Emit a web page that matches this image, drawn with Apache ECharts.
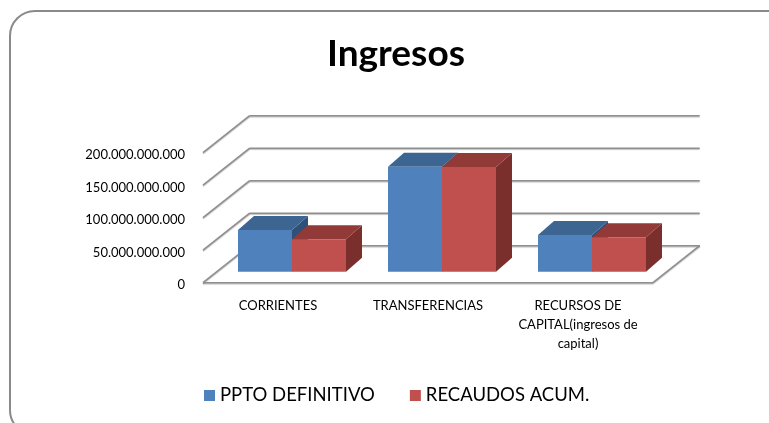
<!DOCTYPE html>
<html><head><meta charset="utf-8">
<script src="https://cdn.jsdelivr.net/npm/echarts/dist/echarts.min.js"></script>
<style>html,body{margin:0;padding:0;background:#fff}#c{width:769px;height:423px}</style>
</head><body><div id="c"></div>
<script>
const categories = ['CORRIENTES', 'TRANSFERENCIAS', 'RECURSOS DE\nCAPITAL(ingresos de\ncapital)'];
const seriesNames = ['PPTO DEFINITIVO', 'RECAUDOS ACUM.'];
const pptoDefinitivo = [64e9, 161.5e9, 56.5e9];
const recaudosAcum = [50e9, 161e9, 53e9];
const yTicks = [0, 50e9, 100e9, 150e9, 200e9];

const OFF = [14, -11];   // front plane -> bar plane
const DEP = [16, -14];   // bar depth
const BK = [46.7, -37];  // front plane -> back wall

function fmt(v) { return String(Math.round(v)).replace(/\B(?=(\d{3})+(?!\d))/g, '.'); }

function barRender(sIdx, cols) {
  return function (params, api) {
    const ci = api.value(0), v = api.value(1);
    const base = api.coord([ci, 0]);
    const top = api.coord([ci, v]);
    const band = api.size([1, 0])[0];
    const w = band * 0.36;
    const cx = base[0] + OFF[0];
    const x0 = sIdx === 0 ? cx - w : cx;
    const x1 = x0 + w;
    const yb = base[1] + OFF[1], yt = top[1] + OFF[1];
    return {
      type: 'group', children: [
        { type: 'polygon', shape: { points: [[x1, yb], [x1 + DEP[0], yb + DEP[1]], [x1 + DEP[0], yt + DEP[1]], [x1, yt]] }, style: { fill: cols.side } },
        { type: 'polygon', shape: { points: [[x0, yt], [x0 + DEP[0], yt + DEP[1]], [x1 + DEP[0], yt + DEP[1]], [x1, yt]] }, style: { fill: cols.top } },
        { type: 'rect', shape: { x: x0, y: yt, width: w, height: yb - yt }, style: { fill: cols.front } }
      ]
    };
  };
}

function wallRender(params, api) {
  const cs = params.coordSys;
  const v = api.value(1);
  const y = api.coord([0, v])[1];
  const xl = cs.x, xr = cs.x + cs.width;
  const lines = [
    [[xl, y], [xl + BK[0], y + BK[1]]],
    [[xl + BK[0], y + BK[1]], [xr + BK[0], y + BK[1]]]
  ];
  if (v === 0) {
    lines.push([[xl, y], [xr, y]]);
    lines.push([[xr, y], [xr + BK[0], y + BK[1]]]);
  }
  return {
    type: 'group', children: lines.map(l => ({
      type: 'polyline', shape: { points: l },
      style: { stroke: '#8f8f8f', lineWidth: 1.6, fill: null, shadowColor: 'rgba(0,0,0,0.25)', shadowOffsetY: 1, shadowBlur: 1 }
    }))
  };
}

const hiddenAxis = { axisLine: { show: false }, axisTick: { show: false }, splitLine: { show: false } };

const chart = echarts.init(document.getElementById('c'));
chart.setOption({
  animation: false,
  backgroundColor: '#fff',
  graphic: [{
    type: 'rect', shape: { x: 10, y: 11, width: 782, height: 424, r: 25 },
    style: { fill: null, stroke: '#8a8a8a', lineWidth: 2 }, z: 100
  }],
  title: {
    text: 'Ingresos', left: 322, top: 31,
    textStyle: { fontFamily: 'Lato', fontWeight: 'bold', fontSize: 37, color: '#000' }
  },
  legend: {
    data: seriesNames, icon: 'rect', itemWidth: 11, itemHeight: 11,
    left: 199, top: 381, itemGap: 35,
    textStyle: { fontFamily: 'Lato', fontSize: 18.5, color: '#000' }
  },
  grid: [
    { left: 203, top: 152.7, width: 450, height: 130 },
    { left: 203, top: 154.9, width: 450, height: 130 }
  ],
  xAxis: [
    Object.assign({
      type: 'category', data: categories, gridIndex: 0,
      axisLabel: { interval: 0, margin: 14, lineHeight: 19, fontSize: 13, fontFamily: 'Lato', color: '#000' }
    }, hiddenAxis),
    Object.assign({ type: 'category', data: categories, gridIndex: 1, axisLabel: { show: false } }, hiddenAxis)
  ],
  yAxis: [
    Object.assign({ type: 'value', min: 0, max: 200e9, interval: 50e9, gridIndex: 0, axisLabel: { show: false } }, hiddenAxis),
    Object.assign({
      type: 'value', min: 0, max: 200e9, interval: 50e9, gridIndex: 1,
      axisLabel: { margin: 18, fontSize: 13, fontFamily: 'Lato', color: '#000', formatter: fmt }
    }, hiddenAxis)
  ],
  series: [
    {
      name: '_walls', type: 'custom', renderItem: wallRender, z: 1, silent: true,
      data: yTicks.map(v => [0, v]), encode: { x: 0, y: 1 }
    },
    {
      name: seriesNames[0], type: 'custom', z: 2, itemStyle: { color: '#4F81BD' },
      renderItem: barRender(0, { front: '#4F81BD', top: '#3D6592', side: '#2F5079' }),
      data: pptoDefinitivo.map((v, i) => [i, v]), encode: { x: 0, y: 1 }
    },
    {
      name: seriesNames[1], type: 'custom', z: 3, itemStyle: { color: '#C0504D' },
      renderItem: barRender(1, { front: '#C0504D', top: '#923A38', side: '#7A2F2D' }),
      data: recaudosAcum.map((v, i) => [i, v]), encode: { x: 0, y: 1 }
    }
  ]
});
</script>
</body></html>
